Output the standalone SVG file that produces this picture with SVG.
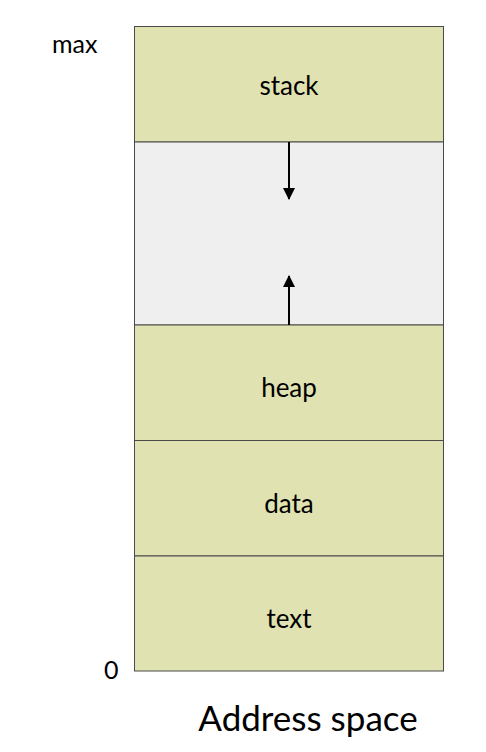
<svg xmlns="http://www.w3.org/2000/svg" width="486" height="752" viewBox="0 0 486 752">
  <style>
    .seg { fill: #e0e3b1; stroke: #4a4a4a; stroke-width: 1; }
    .gap { fill: #efefef; stroke: #4a4a4a; stroke-width: 1; }
    .lbl { font-family: Lato, "Liberation Sans", sans-serif; font-size: 26px; fill: #000; text-anchor: middle; }
    .side { font-family: Lato, "Liberation Sans", sans-serif; font-size: 25px; fill: #000; }
    .title { font-family: Lato, "Liberation Sans", sans-serif; font-size: 35px; fill: #000; text-anchor: middle; }
    .conn { stroke: #000; stroke-width: 2; fill: none; }
  </style>
  <defs>
    <marker id="ah" viewBox="0 0 12 12" refX="11" refY="6" markerWidth="12" markerHeight="12" markerUnits="userSpaceOnUse" orient="auto">
      <path d="M0,0 L12,6 L0,12 z" fill="#000"/>
    </marker>
  </defs>
  <rect x="0" y="0" width="486" height="752" fill="#fff"/>
  <g id="stack">
    <rect class="seg" x="134.5" y="26.5" width="309" height="115.5"/>
    <text class="lbl" x="289" y="95">stack</text>
  </g>
  <g id="free">
    <rect class="gap" x="134.5" y="142" width="309" height="183"/>
  </g>
  <g id="heap">
    <rect class="seg" x="134.5" y="325" width="309" height="115.5"/>
    <text class="lbl" x="289" y="397">heap</text>
  </g>
  <g id="data">
    <rect class="seg" x="134.5" y="440.5" width="309" height="115.5"/>
    <text class="lbl" x="289" y="513">data</text>
  </g>
  <g id="text">
    <rect class="seg" x="134.5" y="556" width="309" height="115"/>
    <text class="lbl" x="289" y="628">text</text>
  </g>
  <g id="connectors">
    <line class="conn" x1="289" y1="142" x2="289" y2="199" marker-end="url(#ah)"/>
    <line class="conn" x1="289" y1="325" x2="289" y2="276" marker-end="url(#ah)"/>
  </g>
  <g id="labels">
    <text class="side" x="52" y="53">max</text>
    <text class="side" x="104" y="679">0</text>
    <text class="title" x="308" y="731">Address space</text>
  </g>
</svg>
